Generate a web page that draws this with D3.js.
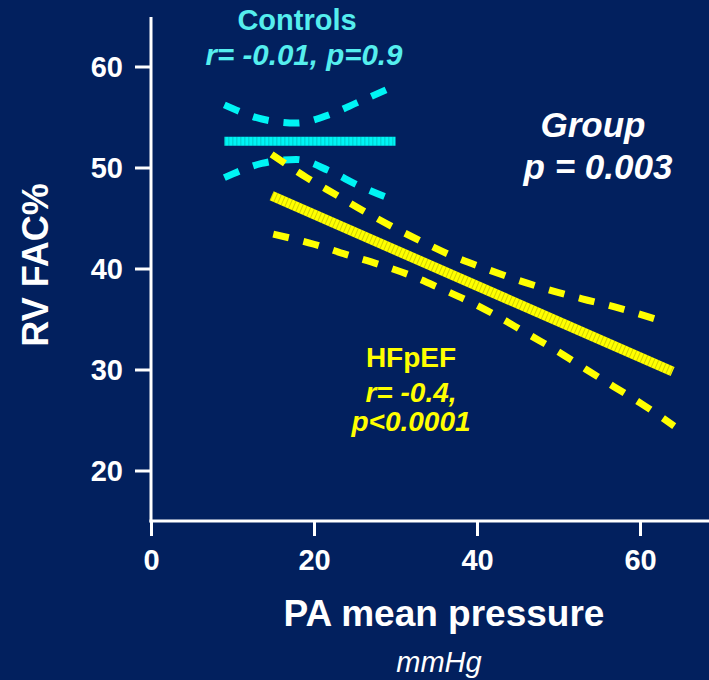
<!DOCTYPE html>
<html>
<head>
<meta charset="utf-8">
<script src="https://cdn.jsdelivr.net/npm/d3@7"></script>
<style>
  html, body { margin: 0; padding: 0; background: #02205e; }
  svg { display: block; }
  text { font-family: "Liberation Sans", Arial, sans-serif; }
</style>
</head>
<body>
<svg id="chart" width="709" height="680"></svg>
<script>
// ---- Data ----
const xTicks = [0, 20, 40, 60];
const yTicks = [20, 30, 40, 50, 60];

// Controls regression line and 95% CI
const controlsMeanX = [9, 30];
const controlsMeanY = [52.6, 52.6];
const controlsCiX = [9, 13.6, 17.8, 21.8, 25.5, 30];
const controlsUpperY = [56.2, 54.8, 54.4, 55.2, 56.5, 58.1];
const controlsLowerY = [49.0, 50.4, 50.8, 49.7, 48.2, 46.7];

// HFpEF regression line and 95% CI
const hfpefMeanX = [14.8, 64.0];
const hfpefMeanY = [47.2, 29.8];
const hfpefUpperX = [14.8, 19.1, 22.7, 26.3, 29.7, 33.4, 37.1, 41.0, 44.8, 48.8, 52.9, 56.9, 61.9];
const hfpefUpperY = [51.3, 49.0, 47.3, 45.6, 44.1, 42.6, 41.2, 40.0, 38.9, 37.9, 37.0, 36.2, 35.0];
const hfpefLowerX = [15.0, 20.0, 23.9, 28.0, 31.9, 35.6, 39.4, 42.9, 46.5, 49.9, 53.4, 56.8, 60.2, 64.2];
const hfpefLowerY = [43.4, 42.4, 41.4, 40.4, 39.3, 38.0, 36.6, 35.1, 33.4, 31.8, 30.0, 28.3, 26.6, 24.4];

// ---- Chart ----
const W = 709, H = 680;
const BG = "#02205e", CYAN = "#00f4f4", CYAN_TXT = "#55eeee", YELLOW = "#ffff00", WHITE = "#ffffff";
const svg = d3.select("#chart");
svg.append("rect").attr("width", W).attr("height", H).attr("fill", BG);

const x = d3.scaleLinear().domain([0, 60]).range([151, 640]);
const y = d3.scaleLinear().domain([15, 65]).range([521, 16]);
const xMaxPx = 709;

// Axes
const xAxisG = svg.append("g").attr("transform", `translate(0,${y(15)})`)
  .call(d3.axisBottom(x).tickValues(xTicks).tickSize(15).tickSizeOuter(0).tickPadding(12));
xAxisG.select(".domain").remove();
xAxisG.append("line").attr("x1", x(0) - 1.5).attr("x2", xMaxPx).attr("y1", 0).attr("y2", 0)
  .attr("stroke", WHITE).attr("stroke-width", 3);

const yAxisG = svg.append("g").attr("transform", `translate(${x(0)},0)`)
  .call(d3.axisLeft(y).tickValues(yTicks).tickSize(16).tickSizeOuter(0).tickPadding(12));
yAxisG.select(".domain").remove();
yAxisG.append("line").attr("x1", 0).attr("x2", 0).attr("y1", 17).attr("y2", y(15) + 1.5)
  .attr("stroke", WHITE).attr("stroke-width", 3);

[xAxisG, yAxisG].forEach(g => {
  g.selectAll(".tick line").attr("stroke", WHITE).attr("stroke-width", 3);
  g.selectAll(".tick text").attr("fill", WHITE)
    .style("font-size", "29px").style("font-weight", "bold")
    .style("font-family", '"Liberation Sans", Arial, sans-serif');
});
yAxisG.selectAll(".tick text").attr("dy", "0.36em");
xAxisG.selectAll(".tick text").attr("dy", "0.75em");

// Lines
const line = d3.line().x(d => x(d[0])).y(d => y(d[1])).curve(d3.curveMonotoneX);
const zip = (xs, ys) => xs.map((v, i) => [v, ys[i]]);

function drawLine(pts, color, width, dashed) {
  const p = svg.append("path").datum(pts).attr("d", line)
    .attr("fill", "none").attr("stroke", color).attr("stroke-width", width)
    .attr("stroke-linecap", "butt");
  if (dashed) p.attr("stroke-dasharray", "16,15");
  if (!dashed) {
    // subtle hatch texture
    svg.append("path").datum(pts).attr("d", line)
      .attr("fill", "none").attr("stroke", "#000").attr("stroke-opacity", 0.18)
      .attr("stroke-width", width).attr("stroke-dasharray", "1,3");
  }
}

drawLine(zip(controlsCiX, controlsUpperY), CYAN, 7, true);
drawLine(zip(controlsCiX, controlsLowerY), CYAN, 7, true);
drawLine(zip(controlsMeanX, controlsMeanY), CYAN, 9, false);

drawLine(zip(hfpefUpperX, hfpefUpperY), YELLOW, 7, true);
drawLine(zip(hfpefLowerX, hfpefLowerY), YELLOW, 7, true);
drawLine(zip(hfpefMeanX, hfpefMeanY), YELLOW, 10, false);

// Annotations
function txt(t, cx, by, size, color, weight, italic) {
  svg.append("text").text(t).attr("x", cx).attr("y", by)
    .attr("text-anchor", "middle").attr("fill", color)
    .style("font-size", size + "px").style("font-weight", weight)
    .style("font-style", italic ? "italic" : "normal");
}
txt("Controls", 297, 30, 29, CYAN_TXT, "bold", false);
txt("r= -0.01, p=0.9", 304, 65, 29.5, CYAN_TXT, "bold", true);

txt("Group", 593, 137, 35, WHITE, "bold", true);
txt("p = 0.003", 598, 179, 35, WHITE, "bold", true);

txt("HFpEF", 411, 367, 28, YELLOW, "bold", false);
txt("r= -0.4,", 411, 402, 28, YELLOW, "bold", true);
txt("p<0.0001", 411, 431, 28, YELLOW, "bold", true);

txt("PA mean pressure", 444, 626, 37, WHITE, "bold", false);
txt("mmHg", 439, 672, 29, WHITE, "normal", true);

svg.append("text").text("RV FAC%")
  .attr("transform", "translate(48,265) rotate(-90)")
  .attr("text-anchor", "middle").attr("fill", WHITE)
  .style("font-size", "36px").style("font-weight", "bold");
</script>
</body>
</html>
